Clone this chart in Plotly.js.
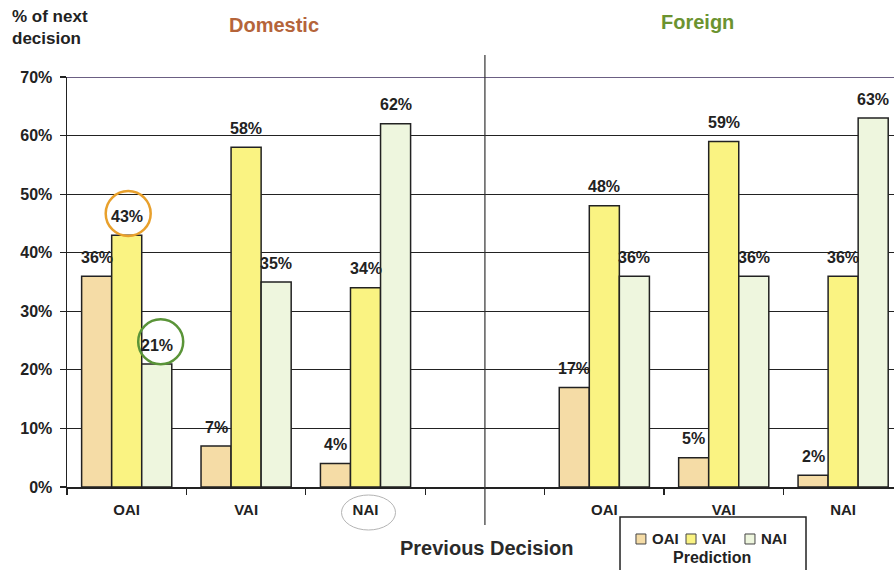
<!DOCTYPE html>
<html>
<head>
<meta charset="utf-8">
<script src="https://cdn.plot.ly/plotly-3.0.1.min.js"></script>
<style>html,body{margin:0;padding:0;background:#fff;}#chart{width:894px;height:570px;}</style>
</head>
<body>
<div id="chart"></div>
<script>
// Categories (previous decision), with an empty separator between Domestic and Foreign
const categoryKeys = ['D-OAI', 'D-VAI', 'D-NAI', 'gap', 'F-OAI', 'F-VAI', 'F-NAI'];
const categoryLabels = ['OAI', 'VAI', 'NAI', '', 'OAI', 'VAI', 'NAI'];

// Prediction series (% of next decision)
const predOAI = [36, 7, 4, null, 17, 5, 2];
const predVAI = [43, 58, 34, null, 48, 59, 36];
const predNAI = [21, 35, 62, null, 36, 36, 63];

const seriesNames = ['OAI', 'VAI', 'NAI'];
const seriesColors = ['#f5dca6', '#faf382', '#eef6de'];

const yTickVals = [0, 10, 20, 30, 40, 50, 60, 70];
const yTickText = ['0%', '10%', '20%', '30%', '40%', '50%', '60%', '70%'];

const FONT = 'Liberation Sans, Arial, sans-serif';
const dark = '#222222';

const seriesValues = [predOAI, predVAI, predNAI];
const traces = seriesValues.map((vals, i) => ({
  type: 'bar',
  name: seriesNames[i],
  x: categoryKeys,
  y: vals,
  marker: {color: seriesColors[i], line: {color: dark, width: 1.5}},
  hoverinfo: 'x+y',
  showlegend: false
}));

// value labels above bars (one per bar, offset to its slot in the group)
const barShift = [-30, 0, 30];
const valueLabels = [];
seriesValues.forEach((vals, i) => {
  vals.forEach((v, j) => {
    if (v === null) return;
    valueLabels.push({
      text: v + '%', xref: 'x', yref: 'y', x: categoryKeys[j], y: v,
      xshift: barShift[i], yshift: 19, xanchor: 'center', yanchor: 'middle',
      showarrow: false, font: {family: FONT, size: 16, color: dark, weight: 'bold'}
    });
  });
});

// manual legend (compact, like the original)
const legendSquares = [[0.688, 0.700], [0.7485, 0.7606], [0.8198, 0.8319]];
const legendTextX = [0.7045, 0.7654, 0.8368];
const legendShapes = legendSquares.map((s, i) => ({
  type: 'rect', xref: 'paper', yref: 'paper', x0: s[0], x1: s[1], y0: -0.139, y1: -0.1146,
  fillcolor: seriesColors[i], line: {color: '#444', width: 1}
}));
const legendTexts = seriesNames.map((n, i) => ({
  text: n, xref: 'paper', yref: 'paper', x: legendTextX[i], y: -0.1268,
  xanchor: 'left', yanchor: 'middle', showarrow: false,
  font: {family: FONT, size: 15, color: dark, weight: 'bold'}
}));

const layout = {
  width: 894,
  height: 570,
  margin: {l: 67, r: 0, t: 77, b: 83},
  paper_bgcolor: '#ffffff',
  plot_bgcolor: '#ffffff',
  barmode: 'group',
  bargap: 0.245,
  bargroupgap: 0,
  font: {family: FONT, color: dark},
  showlegend: false,
  xaxis: {
    type: 'category',
    categoryorder: 'array',
    categoryarray: categoryKeys,
    tickvals: categoryKeys,
    ticktext: categoryLabels,
    range: [-0.5, 6.426],
    showgrid: false,
    showline: true,
    linecolor: dark,
    linewidth: 1.5,
    ticks: 'outside',
    tickson: 'boundaries',
    ticklen: 6,
    tickwidth: 1.2,
    tickcolor: dark,
    ticklabelstandoff: 8,
    tickfont: {family: FONT, size: 15, color: dark, weight: 'bold'},
    zeroline: false,
    automargin: false,
    fixedrange: true
  },
  yaxis: {
    range: [0, 70],
    tickvals: yTickVals,
    ticktext: yTickText,
    showgrid: true,
    gridcolor: dark,
    gridwidth: 1.2,
    showline: true,
    linecolor: dark,
    linewidth: 1.5,
    ticks: 'outside',
    ticklen: 6,
    tickwidth: 1.2,
    tickcolor: dark,
    ticklabelstandoff: 4,
    tickfont: {family: FONT, size: 16, color: dark, weight: 'bold'},
    zeroline: false,
    automargin: false,
    fixedrange: true
  },
  shapes: [
    // top line at 70%
    {type: 'line', xref: 'paper', yref: 'y', x0: 0, x1: 1, y0: 70, y1: 70,
     line: {color: '#3a2a5a', width: 1.5}, layer: 'below'},
    // divider between Domestic and Foreign
    {type: 'line', xref: 'x', yref: 'paper', x0: 'gap', x1: 'gap', y0: -0.0927, y1: 1.0537,
     line: {color: '#333333', width: 1.2}},
    // orange circle around 43%
    {type: 'circle', xref: 'x', yref: 'y', xsizemode: 'pixel', ysizemode: 'pixel',
     xanchor: 'D-OAI', yanchor: 46.7, x0: -21, x1: 24, y0: -22.5, y1: 22.5,
     line: {color: '#e8a02c', width: 2.5}},
    // green circle around 21%
    {type: 'circle', xref: 'x', yref: 'y', xsizemode: 'pixel', ysizemode: 'pixel',
     xanchor: 'D-OAI', yanchor: 24.8, x0: 11.5, x1: 56.5, y0: -22.5, y1: 22.5,
     line: {color: '#5a9438', width: 2.5}},
    // faint sketch circle around NAI tick label
    {type: 'circle', xref: 'x', yref: 'paper', xsizemode: 'pixel', ysizemode: 'pixel',
     xanchor: 'D-NAI', yanchor: 0, x0: -24, x1: 30, y0: -43, y1: -8,
     line: {color: '#b4b4b4', width: 1}},
    // legend box
    {type: 'rect', xref: 'paper', yref: 'paper', x0: 0.6687, x1: 0.8936, y0: -0.21, y1: -0.0732,
     line: {color: dark, width: 1.5}, fillcolor: 'rgba(0,0,0,0)'}
  ].concat(legendShapes),
  annotations: [
    {text: '% of next<br>decision', xref: 'paper', yref: 'paper', x: -0.0689, y: 1.1207,
     xanchor: 'left', yanchor: 'middle', align: 'left', showarrow: false,
     font: {family: FONT, size: 17, color: dark, weight: 'bold'}},
    {text: 'Domestic', xref: 'paper', yref: 'paper', x: 0.2504, y: 1.1268,
     xanchor: 'center', yanchor: 'middle', showarrow: false,
     font: {family: FONT, size: 20, color: '#b5643a', weight: 'bold'}},
    {text: 'Foreign', xref: 'paper', yref: 'paper', x: 0.7618, y: 1.134,
     xanchor: 'center', yanchor: 'middle', showarrow: false,
     font: {family: FONT, size: 20, color: '#6b9330', weight: 'bold'}},
    {text: 'Previous Decision', xref: 'paper', yref: 'paper', x: 0.5067, y: -0.1488,
     xanchor: 'center', yanchor: 'middle', showarrow: false,
     font: {family: FONT, size: 20, color: '#2a2a2a', weight: 'bold'}},
    {text: 'Prediction', xref: 'paper', yref: 'paper', x: 0.780, y: -0.173,
     xanchor: 'center', yanchor: 'middle', showarrow: false,
     font: {family: FONT, size: 16, color: dark, weight: 'bold'}}
  ].concat(legendTexts, valueLabels)
};

Plotly.newPlot('chart', traces, layout, {displayModeBar: false, staticPlot: true});
</script>
</body>
</html>
